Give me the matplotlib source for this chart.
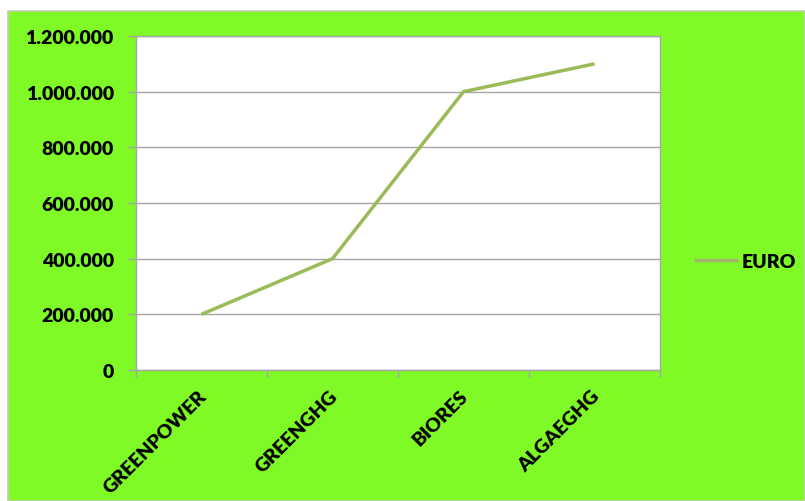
import matplotlib
matplotlib.use("Agg")
import matplotlib.pyplot as plt
import matplotlib.transforms as mtransforms
from matplotlib.patches import Rectangle
from matplotlib.ticker import FixedLocator, FuncFormatter

categories = ["GREENPOWER", "GREENGHG", "BIORES", "ALGAEGHG"]
euro = [200000, 400000, 1000000, 1100000]
series_name = "EURO"
yticks = [0, 200000, 400000, 600000, 800000, 1000000, 1200000]

FONT = ['Lato', 'DejaVu Sans']
plt.rcParams['font.family'] = FONT
FS = 14

W, H = 805, 502
fig = plt.figure(figsize=(W/100, H/100), dpi=100)
fig.patch.set_facecolor('white')
bg = Rectangle((8/W, 0), 1 - 8/W, 1 - 12/H, transform=fig.transFigure,
               facecolor='#7FFA27', edgecolor='#C8CCB4', linewidth=1.2, zorder=-10)
fig.add_artist(bg)

L, R, T, B = 136, 660, 37, 371
ax = fig.add_axes([L/W, 1 - B/H, (R-L)/W, (B-T)/H])
ax.set_zorder(1)
ax.set_facecolor('white')

x = list(range(len(categories)))
line, = ax.plot(x, euro, color='#9BBB59', linewidth=2.5, solid_capstyle='butt',
                label=series_name, zorder=3)

ax.set_xlim(-0.5, len(categories) - 0.5)
ax.set_ylim(0, 1200000)
ax.set_yticks(yticks)
ax.yaxis.set_major_formatter(FuncFormatter(lambda v, p: f"{int(v):,}".replace(",", ".")))
ax.grid(axis='y', color='#A6A6A6', linewidth=1.0, zorder=1)
ax.set_axisbelow(True)

ax.set_xticks(x)
ax.set_xticklabels(categories, rotation=45, ha='right', va='top', rotation_mode='anchor')
ax.xaxis.set_minor_locator(FixedLocator([i - 0.5 for i in range(len(categories) + 1)]))
ax.tick_params(axis='x', which='major', length=0, pad=12, labelsize=FS)
ax.tick_params(axis='x', which='minor', length=5, color='#A6A6A6', width=1)
ax.tick_params(axis='y', length=6, color='#A6A6A6', width=1, pad=10, labelsize=FS)
shift = mtransforms.ScaledTranslation(-4/100, 0, fig.dpi_scale_trans)
for lab in ax.get_xticklabels():
    lab.set_fontweight('heavy')
    lab.set_transform(lab.get_transform() + shift)
for lab in ax.get_yticklabels():
    lab.set_fontweight('heavy')

for s in ax.spines.values():
    s.set_color('#A6A6A6')
    s.set_linewidth(1.0)

leg = fig.legend(handles=[line], loc='center left', bbox_to_anchor=(676/W, 1 - 262/H),
                 frameon=False, handlelength=2.3, handletextpad=0.2,
                 prop={'weight': 'heavy', 'size': FS, 'family': FONT})
leg.get_lines()[0].set_color('#A3B46E')
leg.set_zorder(2)

fig.savefig("out.png", dpi=100)
